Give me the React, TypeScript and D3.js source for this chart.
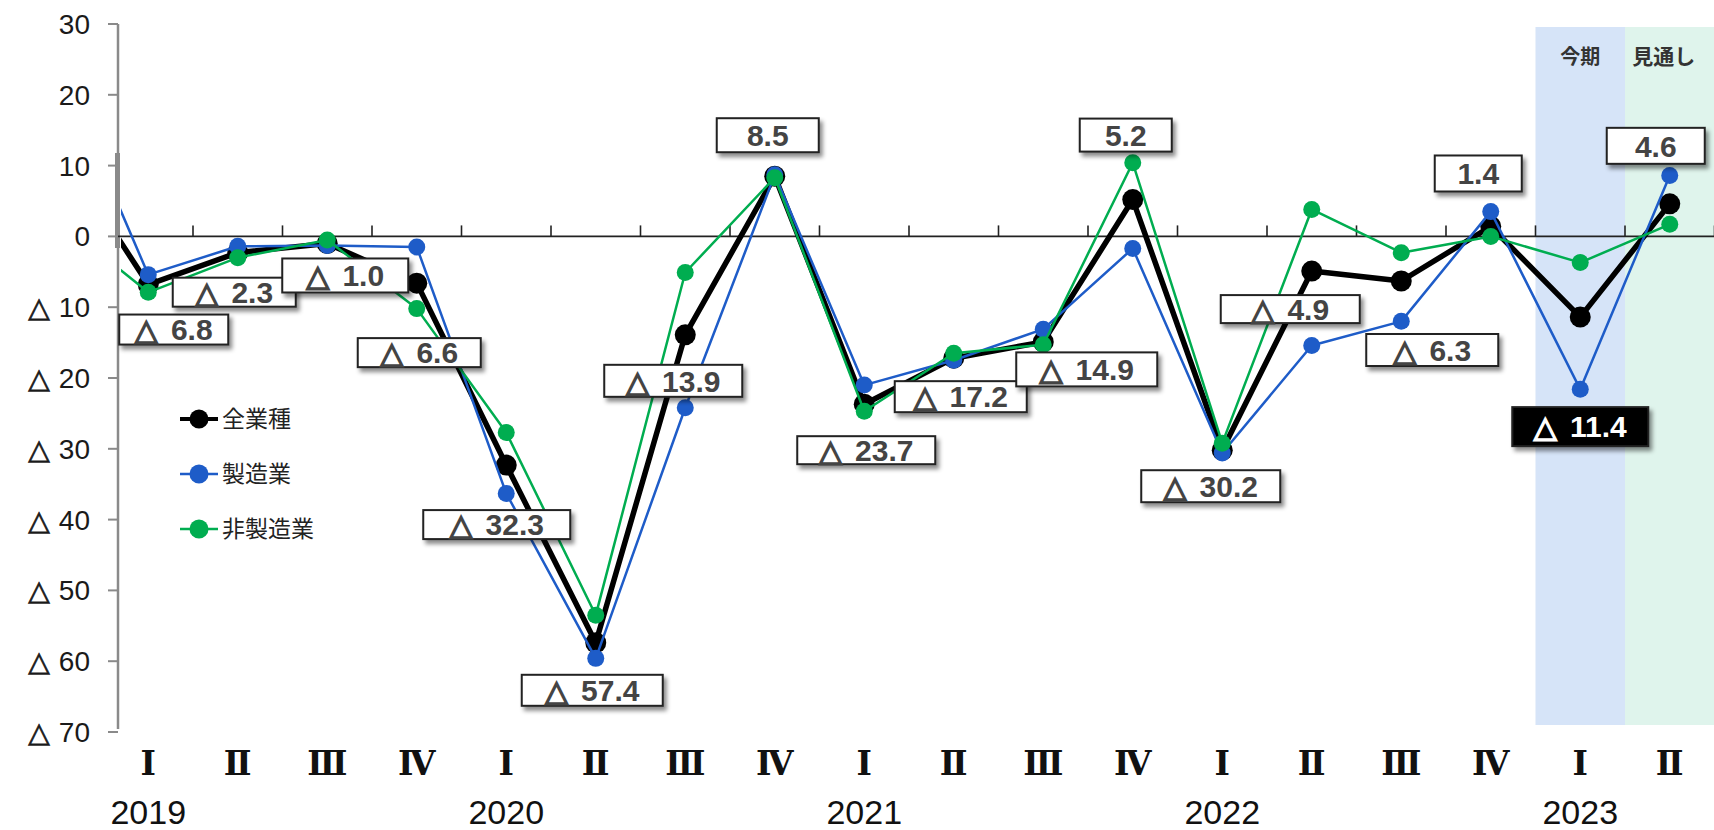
import React from "react";
import * as d3 from "d3";

// ---- data ----
const quarterLabels = ["Ⅰ", "Ⅱ", "Ⅲ", "Ⅳ", "Ⅰ", "Ⅱ", "Ⅲ", "Ⅳ", "Ⅰ", "Ⅱ", "Ⅲ", "Ⅳ", "Ⅰ", "Ⅱ", "Ⅲ", "Ⅳ", "Ⅰ", "Ⅱ"];
const quarterKeys = quarterLabels.map((q, i) => `${2019 + Math.floor(i / 4)}-${q}`);
const yearLabels = ["2019", "2020", "2021", "2022", "2023"];
const yearStartIndex = [0, 4, 8, 12, 16];

// 全業種 (all industries) – also the value labels
const allIndustries = [-6.8, -2.3, -1.0, -6.6, -32.3, -57.4, -13.9, 8.5, -23.7, -17.2, -14.9, 5.2, -30.2, -4.9, -6.3, 1.4, -11.4, 4.6];
// 製造業 (manufacturing)
const manufacturing = [-5.4, -1.4, -1.3, -1.5, -36.3, -59.6, -24.2, 8.7, -21.0, -17.5, -13.1, -1.7, -30.6, -15.4, -12.0, 3.5, -21.6, 8.6];
// 非製造業 (non-manufacturing)
const nonManufacturing = [-7.9, -3.0, -0.5, -10.2, -27.7, -53.5, -5.1, 8.3, -24.7, -16.5, -15.3, 10.4, -29.2, 3.8, -2.3, 0.0, -3.7, 1.7];
// preceding quarter (2018 IV), only visible as clipped line stubs
const prevAll = 12.7;
const prevMfg = 24.0;
const prevNonMfg = 2.3;

const yTicks = [30, 20, 10, 0, -10, -20, -30, -40, -50, -60, -70];
const seriesNames = ["全業種", "製造業", "非製造業"];
const currentLabel = "今期";
const outlookLabel = "見通し";

// ---- layout (label box placement relative to 全業種 points) ----
const labelDx = [25.5, -3.5, 18, 2.5, -9.5, -3.5, -12, -7, 2, 7, 43.5, -7, -11.5, -21.5, 31, -12.5, 0, -14];
const labelDy = [45, 39.5, 32, 69.5, 59.5, 47.5, 46, -41, 46, 38.5, 27.5, -64.5, 36, 38, 69, -53, 109.5, -58];
const labelW = [109, 123, 126, 123, 147, 141, 138, 102, 138, 132, 141, 92, 139, 139, 132, 87, 136, 98];
const labelH = [30, 29, 34, 29, 29, 31, 32, 34, 28, 31, 34, 33, 32, 28, 32, 36, 39, 36];
const highlightIndex = 16;

const W = 1714;
const H = 830;
const COLORS = { all: "#000000", mfg: "#1e5cc8", non: "#00ad50" };
const SANS = "'Liberation Sans', Arial, 'DejaVu Sans', sans-serif";
const CJK = "'Noto Sans CJK JP', 'Noto Sans', sans-serif";

export default function App() {
  const x = d3.scaleBand<string>().domain(quarterKeys).range([103.5, 103.5 + 89.5 * 18]).padding(0);
  const cx = (i: number) => (x(quarterKeys[i]) as number) + x.bandwidth() / 2;
  const y = d3.scaleLinear().domain([-70, 30]).range([732, 24]);
  const axisX = 118;

  const mk = (prev: number, arr: number[]) => [{ i: -1, v: prev }, ...arr.map((v, i) => ({ i, v }))];
  const cxAny = (i: number) => (i < 0 ? cx(0) - x.bandwidth() : cx(i));
  const line = d3
    .line<{ i: number; v: number }>()
    .x((d) => cxAny(d.i))
    .y((d) => y(d.v));

  const series = [
    { key: "all", data: allIndustries, prev: prevAll, color: COLORS.all, width: 5.5, r: 10.5 },
    { key: "mfg", data: manufacturing, prev: prevMfg, color: COLORS.mfg, width: 2.5, r: 8.5 },
    { key: "non", data: nonManufacturing, prev: prevNonMfg, color: COLORS.non, width: 2.5, r: 8.5 },
  ];

  const bandStart = (i: number) => x(quarterKeys[i]) as number;
  const boundaries = d3.range(1, 19).map((i) => 103.5 + 89.5 * i);

  return (
    <div style={{ position: "absolute", left: 0, top: 0, width: W, height: H, background: "#fff" }}>
      <svg width={W} height={H} style={{ display: "block" }}>
        <defs>
          <clipPath id="plotClip">
            <rect x={121} y={0} width={W - 121} height={H} />
          </clipPath>
          <filter id="shadow" x="-20%" y="-30%" width="150%" height="180%">
            <feDropShadow dx="3" dy="4" stdDeviation="2" floodColor="#000" floodOpacity="0.45" />
          </filter>
        </defs>

        {/* shaded periods */}
        <rect x={bandStart(16)} y={27} width={x.bandwidth()} height={725 - 27} fill="#d6e4f8" />
        <rect x={bandStart(17)} y={27} width={W - bandStart(17)} height={725 - 27} fill="#dff4ec" />
        <text x={cx(16)} y={57} textAnchor="middle" dy="0.35em" fontFamily={CJK} fontWeight={700} fontSize={20} fill="#333">
          {currentLabel}
        </text>
        <text x={cx(17) - 6} y={57} textAnchor="middle" dy="0.35em" fontFamily={CJK} fontWeight={700} fontSize={21} fill="#333">
          {outlookLabel}
        </text>

        {/* y axis */}
        <line x1={axisX} x2={axisX} y1={y(30)} y2={y(-70) - 3} stroke="#8a8a8a" strokeWidth={2.5} />
        <rect x={axisX - 3} y={153} width={5} height={95} fill="#8a8a8a" />
        {yTicks.map((t) => (
          <g key={t}>
            <line x1={axisX - 10} x2={axisX} y1={y(t)} y2={y(t)} stroke="#8a8a8a" strokeWidth={2} />
            <text x={90} y={y(t)} dy="0.36em" textAnchor="end" fontFamily={SANS} fontSize={28} fill="#1a1a1a">
              {t < 0 ? (
                <>
                  <tspan stroke="#1a1a1a" strokeWidth={0.7}>△</tspan>
                  <tspan dx={9}>{`${Math.abs(t)}`}</tspan>
                </>
              ) : (
                `${t}`
              )}
            </text>
          </g>
        ))}

        {/* zero line with category ticks */}
        <line x1={axisX} x2={W} y1={y(0)} y2={y(0)} stroke="#222" strokeWidth={1.6} />
        {boundaries.map((b, i) => (
          <line key={i} x1={b} x2={b} y1={y(0)} y2={y(0) - 11} stroke="#222" strokeWidth={1.6} />
        ))}

        {/* series */}
        <g clipPath="url(#plotClip)">
          {series.map((s) => (
            <g key={s.key}>
              <path d={line(mk(s.prev, s.data)) || ""} fill="none" stroke={s.color} strokeWidth={s.width} strokeLinejoin="round" />
              {s.data.map((v, i) => (
                <circle key={i} cx={cx(i)} cy={y(v)} r={s.r} fill={s.color} />
              ))}
            </g>
          ))}
        </g>

        {/* value labels */}
        {allIndustries.map((v, i) => {
          const hx = cx(i) + labelDx[i];
          const hy = y(v) + labelDy[i];
          const w = labelW[i];
          const h = labelH[i];
          const hi = i === highlightIndex;
          const col = hi ? "#fff" : "#444";
          return (
            <g key={i}>
              <rect
                x={hx - w / 2}
                y={hy - h / 2}
                width={w}
                height={h}
                fill={hi ? "#000" : "#fff"}
                stroke="#222"
                strokeWidth={2}
                filter="url(#shadow)"
              />
              <text
                x={hx}
                y={hy}
                dy="0.36em"
                textAnchor="middle"
                fontFamily={SANS}
                fontWeight={700}
                fontSize={30}
                fill={col}
              >
                {v < 0 ? (
                  <>
                    <tspan stroke={col} strokeWidth={1.6}>△</tspan>
                    <tspan dx={13}>{Math.abs(v).toFixed(1)}</tspan>
                  </>
                ) : (
                  v.toFixed(1)
                )}
              </text>
            </g>
          );
        })}

        {/* legend */}
        {seriesNames.map((name, k) => {
          const s = series[k];
          const ly = 419 + k * 55;
          return (
            <g key={name}>
              <line x1={180} x2={218} y1={ly} y2={ly} stroke={s.color} strokeWidth={k === 0 ? 4 : 2.5} />
              <circle cx={199} cy={ly} r={9.5} fill={s.color} />
              <text x={222} y={ly} dy="0.36em" fontFamily={CJK} fontSize={23} fill="#222">
                {name}
              </text>
            </g>
          );
        })}

        {/* x axis labels */}
        {quarterLabels.map((q, i) => (
          <text
            key={i}
            x={cx(i)}
            y={763}
            dy="0.36em"
            textAnchor="middle"
            fontFamily="'DejaVu Serif', 'Liberation Serif', serif"
            fontWeight={700}
            fontSize={33}
            fill="#111"
          >
            {q}
          </text>
        ))}
        {yearLabels.map((yl, k) => (
          <text
            key={yl}
            x={cx(yearStartIndex[k])}
            y={812}
            dy="0.36em"
            textAnchor="middle"
            fontFamily={SANS}
            fontSize={34}
            fill="#111"
          >
            {yl}
          </text>
        ))}
      </svg>
    </div>
  );
}
